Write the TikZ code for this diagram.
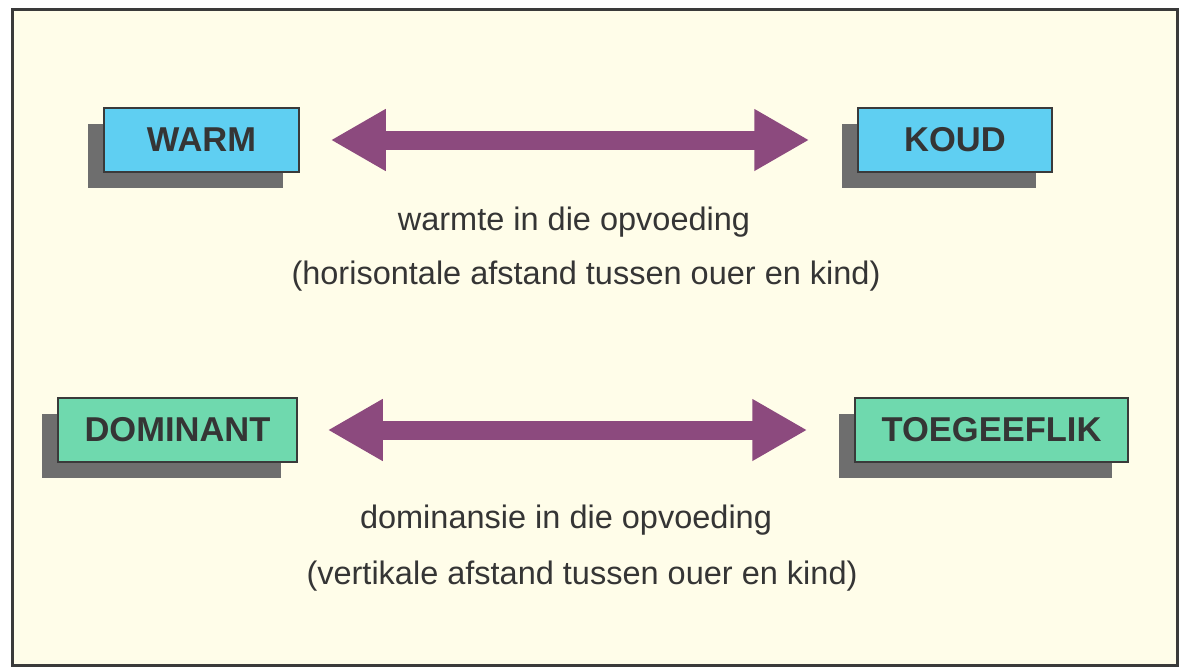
\documentclass[tikz,border=0pt]{standalone}
\usepackage{fontspec}
\setmainfont{Liberation Sans}
\usetikzlibrary{arrows.meta,shadows}
\definecolor{bg}{HTML}{FFFDE9}
\definecolor{blueb}{HTML}{5FCFF2}
\definecolor{greenb}{HTML}{6FD9AE}
\definecolor{shadowc}{HTML}{6E6E6E}
\definecolor{arrowc}{HTML}{8C4A7E}
\definecolor{txt}{HTML}{353535}
\definecolor{framec}{HTML}{3A3A3A}
\begin{document}
\begin{tikzpicture}[x=1pt,y=-1pt,
  labelbox/.style={draw=framec, line width=1.5pt, minimum height=64pt, inner sep=0pt,
    font=\fontsize{34.5}{38}\selectfont\bfseries, text=txt,
    drop shadow={shadow xshift=-16pt, shadow yshift=-16pt, fill=shadowc, opacity=1, draw=none}},
  warmbox/.style={labelbox, fill=blueb},
  dombox/.style={labelbox, fill=greenb},
  bigarrow/.style={draw=arrowc, line width=19pt,
    {Triangle[length=55pt,width=58pt]}-{Triangle[length=55pt,width=58pt]}},
  caption/.style={font=\fontsize{32.5}{36}\selectfont, text=txt, inner sep=0pt}
]
\useasboundingbox (0,0) rectangle (1184,667);
\fill[white] (0,0) rectangle (1184,667);
\draw[fill=bg, draw=framec, line width=3pt] (12,9.5) rectangle (1177.5,665);

\node[warmbox, minimum width=195pt] (warm) at (201.5,140) {WARM};
\node[warmbox, minimum width=194pt] (koud) at (955,140) {KOUD};
\node[dombox, minimum width=239pt] (dominant) at (177.5,430) {DOMINANT};
\node[dombox, minimum width=273pt] (toeg) at (991.5,430) {TOEGEEFLIK};

\draw[bigarrow, shorten <=31pt, shorten >=48pt] (warm.east) -- (koud.west);
\draw[bigarrow, shorten <=30pt, shorten >=47pt] (dominant.east) -- (toeg.west);

\node[caption] (c1) at (574,222) {warmte in die opvoeding};
\node[caption] (c2) at (586,276) {(horisontale afstand tussen ouer en kind)};
\node[caption] (c3) at (566,520) {dominansie in die opvoeding};
\node[caption] (c4) at (582,576) {(vertikale afstand tussen ouer en kind)};
\end{tikzpicture}
\end{document}
